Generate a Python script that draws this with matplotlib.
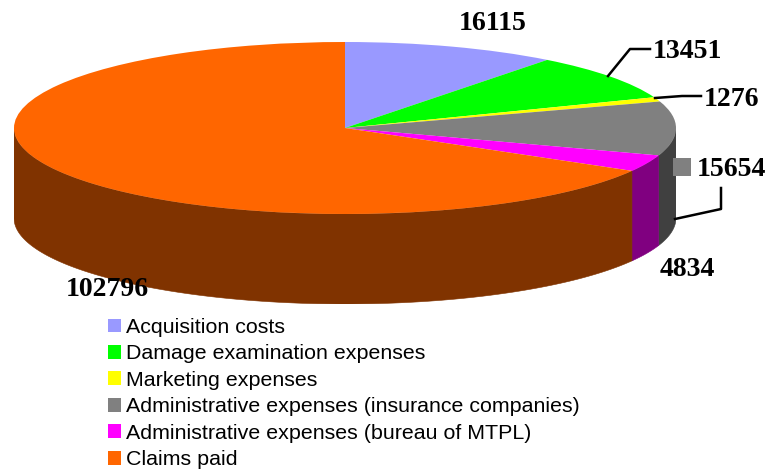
import numpy as np
import matplotlib
matplotlib.use("Agg")
import matplotlib.pyplot as plt
from matplotlib.lines import Line2D
from matplotlib.patches import Rectangle

categories = ['Acquisition costs', 'Damage examination expenses', 'Marketing expenses',
              'Administrative expenses (insurance companies)',
              'Administrative expenses (bureau of MTPL)', 'Claims paid']
values = [16115, 13451, 1276, 15654, 4834, 102796]
colors = ['#9999FF', '#00FF00', '#FFFF00', '#808080', '#FF00FF', '#FF6600']
side_colors = ['#4D4D80', '#008000', '#808000', '#404040', '#800080', '#803300']

W, H = 770, 472
depth = 90 / 86  # wall height in units of the short radius

def fx(x):
    return x / W

def fy(y):
    return 1 - y / H

fig = plt.figure(figsize=(W / 100, H / 100), dpi=100)
# axes box is the pie top plus its wall, in pixels
ax = fig.add_axes([fx(14), fy(304), 662 / W, 262 / H])

# walls, only the part of the rim facing us
edges = np.cumsum([0] + values) / sum(values) * 2 * np.pi
for i in range(len(values)):
    a0 = max(edges[i], np.pi / 2)
    a1 = min(edges[i + 1], 3 * np.pi / 2)
    if a1 <= a0:
        continue
    t = np.linspace(a0, a1, 200)
    xs = np.r_[np.sin(t), np.sin(t[::-1])]
    ys = np.r_[np.cos(t), np.cos(t[::-1]) - depth]
    ax.fill(xs, ys, color=side_colors[i], lw=0.4, zorder=1)

wedges, _ = ax.pie(values, colors=colors, startangle=90, counterclock=False,
                   wedgeprops={'linewidth': 0})
ax.set_aspect('auto')
ax.set_xlim(-1, 1)
ax.set_ylim(-1 - depth, 1)
ax.axis('off')
for w in wedges:
    w.set_zorder(2)

serif = {'family': 'Liberation Serif', 'weight': 'bold', 'fontsize': 20.0,
         'ha': 'center', 'va': 'center', 'color': 'black', 'zorder': 5}
label_pos = [(493, 24), (687, 52), (732, 99), (731, 170), (687, 269), (107, 290)]
for v, (x, y) in zip(values, label_pos):
    fig.text(fx(x), fy(y), str(v), **serif)

# leader lines
leaders = [[(608, 76), (630, 49), (650, 49)],
           [(655, 98), (682, 96), (701, 96)],
           [(675, 219), (721, 209), (721, 188)]]
for pts in leaders:
    fig.add_artist(Line2D([fx(p[0]) for p in pts], [fy(p[1]) for p in pts],
                          color='black', lw=1.8, transform=fig.transFigure))

# the little grey key next to 15654
fig.add_artist(Rectangle((fx(673), fy(176)), 18 / W, 18 / H, color=colors[3],
                         lw=0, transform=fig.transFigure))

fig.legend(wedges, categories, loc='upper left', bbox_to_anchor=(fx(108), fy(318)),
           frameon=False, prop={'family': 'Liberation Sans', 'size': 15.4},
           borderpad=0, borderaxespad=0, handlelength=0.61, handleheight=0.61,
           handletextpad=0.23, labelspacing=0.348)

fig.savefig('out.png', dpi=100)
